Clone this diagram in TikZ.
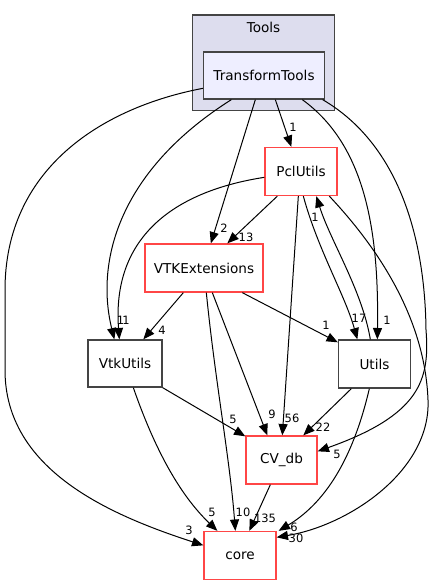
\documentclass[tikz,border=0pt]{standalone}
\usepackage{fontspec}
\setmainfont{DejaVu Sans}
\usetikzlibrary{arrows.meta,calc}
\definecolor{redb}{RGB}{255,70,70}
\definecolor{greyb}{RGB}{68,68,68}
\definecolor{clfill}{RGB}{221,221,238}
\definecolor{ttfill}{RGB}{238,238,255}
\tikzset{
  box/.style={draw, line width=1pt, fill=white, inner sep=0pt, font=\fontsize{10.2}{12}\selectfont},
  redbox/.style={box, draw=redb},
  greybox/.style={box, draw=greyb},
  lbl/.style={inner sep=0pt, font=\fontsize{8.6}{10}\selectfont},
  dep/.style={line width=0.75pt, -{Triangle[length=8.5pt,width=6.8pt]}},
}
\begin{document}
\begin{tikzpicture}[x=0.75pt,y=-0.75pt]
\useasboundingbox (0,0) rectangle (434,585);
% cluster
\node[draw=greyb, fill=clfill, line width=1pt, minimum width=106.5pt, minimum height=71.6pt, inner sep=0pt] (tools) at (263.75,62.75) {};
\node[font=\fontsize{10.2}{12}\selectfont, inner sep=0pt] (toolslbl) at (263.5,27) {Tools};
% nodes
\node[box, draw=greyb, fill=ttfill, minimum width=90.75pt, minimum height=35.25pt] (tt) at (264,75.5) {TransformTools};
\node[redbox, minimum width=54pt, minimum height=36pt] (pcl) at (301,171.5) {PclUtils};
\node[redbox, minimum width=88.5pt, minimum height=36pt] (vex) at (204,268) {VTKExtensions};
\node[greybox, minimum width=55.5pt, minimum height=35.25pt] (vtk) at (125,363.5) {VtkUtils};
\node[greybox, minimum width=54pt, minimum height=36pt] (utl) at (374.5,364) {Utils};
\node[redbox, minimum width=53.25pt, minimum height=36pt] (cv) at (281.5,460) {CV\_db};
\node[redbox, minimum width=54pt, minimum height=36pt] (core) at (240,555.5) {core};
% labels
\node[lbl] (l1) at (189,530) {3};
\node[lbl] (l2) at (120.5,320) {1};
\node[lbl] (l3) at (126,320) {1};
\node[lbl] (l4) at (224,228) {2};
\node[lbl] (l5) at (293,127) {1};
\node[lbl] (l6) at (387,320) {1};
\node[lbl] (l7) at (337,454) {5};
\node[lbl] (l8) at (246,237) {13};
\node[lbl] (l9) at (292,418) {56};
\node[lbl] (l10) at (359,318) {17};
\node[lbl] (l11) at (315,217) {1};
\node[lbl] (l12) at (296,538) {30};
\node[lbl] (l13) at (294,527) {6};
\node[lbl] (l14) at (162,330) {4};
\node[lbl] (l15) at (326,325) {1};
\node[lbl] (l16) at (272,414) {9};
\node[lbl] (l17) at (243,512) {10};
\node[lbl] (l18) at (233,419) {5};
\node[lbl] (l19) at (212,512) {5};
\node[lbl] (l20) at (323,427) {22};
\node[lbl] (l21) at (265,518) {135};
% edges
\draw[dep] ($(tt.north west)+(0,37)$) .. controls (100,108) and (5,170) .. (5,290) -- (5,370) .. controls (5,470) and (110,515) .. ($(core.north west)+(0,14.5)$);
\draw[dep] ($(tt.south west)+(28.5,0)$) .. controls (120,170) and (95,260) .. ($(vtk.north west)+(27,0)$);
\draw[dep] ($(pcl.north west)+(0,30.5)$) .. controls (170,192) and (112,240) .. ($(vtk.north west)+(32,0)$);
\draw[dep] ($(tt.south west)+(52.5,0)$) -- ($(vex.north west)+(66.5,0)$);
\draw[dep] ($(tt.south west)+(72.5,0)$) -- ($(pcl.north west)+(27,0)$);
\draw[dep] ($(tt.south west)+(99.5,0)$) .. controls (365,145) and (379,230) .. ($(utl.north west)+(39.5,0)$);
\draw[dep] ($(tt.south east)+(-2.5,0)$) .. controls (400,145) and (425,240) .. (426,330) .. controls (430,380) and (420,415) .. ($(cv.north east)+(0,16)$);
\draw[dep] ($(pcl.south west)+(13,0)$) -- ($(vex.north west)+(83,0)$);
\draw[dep] ($(pcl.south west)+(34,0)$) -- ($(cv.north west)+(37,0)$);
\draw[dep] ($(pcl.south west)+(39,0)$) .. controls (318,250) and (345,295) .. ($(utl.north west)+(19.5,0)$);
\draw[dep] ($(utl.north west)+(32.5,0)$) .. controls (362,290) and (330,240) .. ($(pcl.south west)+(52,0)$);
\draw[dep] ($(pcl.south west)+(65,0)$) .. controls (380,250) and (425,320) .. (428,400) .. controls (431,470) and (350,525) .. ($(core.north east)+(0,6.5)$);
\draw[dep] ($(utl.south west)+(31.5,0)$) .. controls (355,450) and (330,500) .. ($(core.north east)+(2,0)$);
\draw[dep] ($(vex.south west)+(39,0)$) -- ($(vtk.north west)+(56,0)$);
\draw[dep] ($(vex.south west)+(98,0)$) -- ($(utl.north west)+(0,3)$);
\draw[dep] ($(vex.south west)+(68,0)$) -- ($(cv.north west)+(22,0)$);
\draw[dep] ($(vex.south west)+(62,0)$) .. controls (215,380) and (230,460) .. ($(core.north west)+(32,0)$);
\draw[dep] (vtk.south east) -- ($(cv.north west)+(0,1)$);
\draw[dep] ($(vtk.south west)+(46,0)$) .. controls (155,450) and (180,495) .. ($(core.north west)+(14,0)$);
\draw[dep] ($(utl.south west)+(13.5,0)$) -- ($(cv.north west)+(58,0)$);
\draw[dep] ($(cv.south west)+(25,0)$) -- ($(core.north west)+(46,0)$);
\end{tikzpicture}
\end{document}
